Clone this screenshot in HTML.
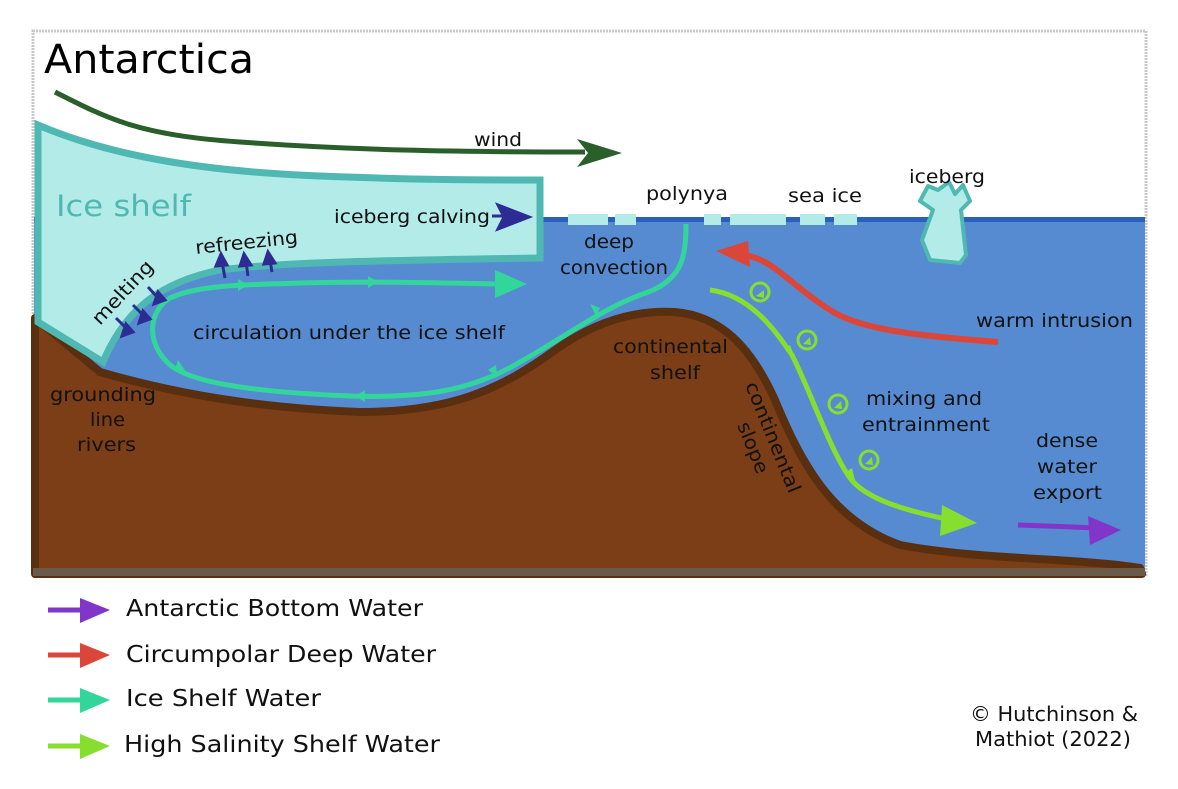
<!DOCTYPE html>
<html><head><meta charset="utf-8"><style>
html,body{margin:0;padding:0;background:#fff}
svg{display:block}
text{font-family:"DejaVu Sans","Liberation Sans",sans-serif;fill:#111}
</style></head><body>
<svg width="1178" height="789" viewBox="0 0 1178 789" xmlns="http://www.w3.org/2000/svg">
<rect x="33" y="31" width="1113" height="545" fill="#fff" stroke="#c8c8c8" stroke-width="3" stroke-dasharray="2 1"/>
<rect x="34" y="219" width="1111" height="356" fill="#568bd1"/>
<rect x="34" y="217" width="1111" height="5" fill="#2b5fbd"/>
<path d="M35,318 L100,372 C180,395 260,408 360,412 C450,412 500,390 555,350 C600,318 640,310 675,312 C720,316 750,345 775,400 C800,460 830,520 900,545 C980,560 1080,558 1140,568 L1142,574 L35,574 Z" fill="#7b3e16" stroke="#5a2f10" stroke-width="8" stroke-linejoin="round"/>
<rect x="33" y="568" width="1112" height="8" fill="#6a5a4a"/>
<path d="M38,125 C120,160 220,172 320,176 C420,180 480,180 540,180 L540,258 C400,260 280,262 220,270 C160,282 125,310 103,362 L38,322 Z" fill="#b3ebe9" stroke="#4fb8b3" stroke-width="7" stroke-linejoin="miter"/>
<g fill="#b3ebe9">
<rect x="568" y="214" width="40" height="11"/><rect x="615" y="214" width="21" height="11"/>
<rect x="704" y="214" width="17" height="11"/><rect x="730" y="214" width="56" height="11"/>
<rect x="800" y="214" width="25" height="11"/><rect x="834" y="214" width="23" height="11"/>
</g>
<path d="M933,210 L920,201 L928,186 L938,190 L949,182 L955,194 L963,185 L970,201 L961,210 L966,255 L960,263 L930,260 L922,240 Z" fill="#b3ebe9" stroke="#4fb8b3" stroke-width="4" stroke-linejoin="round"/>
<path d="M55,92 C110,120 140,135 240,142 C350,150 450,152 585,152" fill="none" stroke="#2a5e2a" stroke-width="5"/>
<path d="M577,139 L622,153 L577,167 L588,153Z" fill="#2a5e2a"/>
<g fill="none" stroke="#33d69a" stroke-width="5">
<path d="M686,224 C686,262 680,282 640,295 C600,310 560,340 520,362 C470,392 420,398 350,396 C250,392 185,382 167,362 C145,340 150,310 170,298 C200,284 250,285 300,283 C380,281 440,283 500,284"/>
</g>
<path d="M495,270 L527,284 L495,298 Z" fill="#33d69a"/>
<g fill="#33d69a">
<path d="M600,308 L590,304 L596,316Z"/><path d="M488,370 L496,365 L497,377Z"/>
<path d="M355,396 L365,390 L365,402Z"/><path d="M175,370 L178,360 L186,372Z"/>
<path d="M248,285 L238,279 L238,291Z"/><path d="M378,282 L368,276 L368,288Z"/>
</g>
<g stroke="#2c2c94" stroke-width="3" fill="#2c2c94">
<path d="M116,318 L128,330"/><path d="M122,336 L133,332 L126,324Z"/>
<path d="M133,305 L145,317"/><path d="M139,323 L150,319 L143,311Z"/>
<path d="M148,287 L158,298"/><path d="M154,304 L165,300 L158,292Z"/>
<path d="M225,278 L222,262"/><path d="M221,254 L216,266 L227,265Z"/>
<path d="M248,276 L246,262"/><path d="M244,254 L240,266 L251,265Z"/>
<path d="M272,272 L270,260"/><path d="M268,252 L264,264 L275,263Z"/>
<path d="M492,216 L505,216"/><path d="M498,205 L529,217 L498,229 L504,217Z"/>
</g>
<path d="M998,342 C920,336 860,330 830,310 C790,285 770,255 740,255" fill="none" stroke="#dc4638" stroke-width="6"/>
<path d="M748,241 L716,251 L750,267 Z" fill="#dc4638"/>
<path d="M710,290 C750,295 775,330 792,355 C810,390 830,450 850,478 C870,505 930,515 950,520" fill="none" stroke="#86de2f" stroke-width="5"/>
<path d="M942,505 L977,523 L940,536 Z" fill="#86de2f"/>
<path d="M785,350 L796,360 L790,345Z" fill="#86de2f"/>
<path d="M846,472 L856,484 L852,468Z" fill="#86de2f"/>
<g fill="none" stroke="#86de2f" stroke-width="3">
<circle cx="760" cy="292" r="9"/><circle cx="807" cy="340" r="9"/><circle cx="838" cy="404" r="9"/><circle cx="869" cy="460" r="9"/>
</g>
<g fill="#86de2f">
<path d="M756,296 L764,290 L764,298Z"/><path d="M803,344 L810,337 L811,345Z"/>
<path d="M834,408 L841,401 L842,409Z"/><path d="M865,464 L872,457 L873,465Z"/>
</g>
<text x="866" y="405" font-size="19" textLength="116" lengthAdjust="spacingAndGlyphs">mixing and</text>
<text x="862" y="431" font-size="19" textLength="128" lengthAdjust="spacingAndGlyphs">entrainment</text>
<path d="M1018,525 C1050,526 1075,527 1095,528" fill="none" stroke="#8136c9" stroke-width="5"/>
<path d="M1088,516 L1121,530 L1090,545 Z" fill="#8136c9"/>
<text x="44" y="73" font-size="40" style="fill:#000" textLength="210" lengthAdjust="spacingAndGlyphs">Antarctica</text>
<text x="56" y="216" font-size="29" style="fill:#4fb8b3" textLength="135" lengthAdjust="spacingAndGlyphs">Ice shelf</text>
<text x="474" y="146" font-size="19" textLength="48" lengthAdjust="spacingAndGlyphs">wind</text>
<text x="334" y="223" font-size="19" textLength="156" lengthAdjust="spacingAndGlyphs">iceberg calving</text>
<text x="196" y="254" font-size="19" transform="rotate(-6 196 254)" textLength="103" lengthAdjust="spacingAndGlyphs">refreezing</text>
<text x="100" y="326" font-size="19" transform="rotate(-47 100 326)" textLength="80" lengthAdjust="spacingAndGlyphs">melting</text>
<text x="193" y="339" font-size="19" textLength="312" lengthAdjust="spacingAndGlyphs">circulation under the ice shelf</text>
<text x="50" y="401" font-size="19" textLength="106" lengthAdjust="spacingAndGlyphs">grounding</text>
<text x="90" y="426" font-size="19" textLength="35" lengthAdjust="spacingAndGlyphs">line</text>
<text x="77" y="451" font-size="19" textLength="59" lengthAdjust="spacingAndGlyphs">rivers</text>
<text x="646" y="200" font-size="19" textLength="82" lengthAdjust="spacingAndGlyphs">polynya</text>
<text x="788" y="202" font-size="19" textLength="74" lengthAdjust="spacingAndGlyphs">sea ice</text>
<text x="909" y="183" font-size="19" textLength="76" lengthAdjust="spacingAndGlyphs">iceberg</text>
<text x="584" y="248" font-size="19" textLength="50" lengthAdjust="spacingAndGlyphs">deep</text>
<text x="560" y="274" font-size="19" textLength="108" lengthAdjust="spacingAndGlyphs">convection</text>
<text x="976" y="327" font-size="19" textLength="157" lengthAdjust="spacingAndGlyphs">warm intrusion</text>
<text x="613" y="353" font-size="19" textLength="115" lengthAdjust="spacingAndGlyphs">continental</text>
<text x="650" y="379" font-size="19" textLength="50" lengthAdjust="spacingAndGlyphs">shelf</text>
<text x="1036" y="447" font-size="19" textLength="62" lengthAdjust="spacingAndGlyphs">dense</text>
<text x="1037" y="473" font-size="19" textLength="60" lengthAdjust="spacingAndGlyphs">water</text>
<text x="1033" y="499" font-size="19" textLength="69" lengthAdjust="spacingAndGlyphs">export</text>
<text x="745" y="385" font-size="19" transform="rotate(68 745 385)" textLength="118" lengthAdjust="spacingAndGlyphs">continental</text>
<text x="737" y="425" font-size="19" transform="rotate(68 737 425)" textLength="54" lengthAdjust="spacingAndGlyphs">slope</text>
<g stroke-width="5">
<path d="M48,610 L86,610" stroke="#8136c9"/><path d="M80,598 L110,610 L80,623Z" fill="#8136c9"/>
<path d="M48,655 L86,655" stroke="#dc4638"/><path d="M80,643 L110,655 L80,668Z" fill="#dc4638"/>
<path d="M48,700 L86,700" stroke="#33d69a"/><path d="M80,688 L110,700 L80,713Z" fill="#33d69a"/>
<path d="M48,746 L86,746" stroke="#86de2f"/><path d="M80,734 L110,746 L80,759Z" fill="#86de2f"/>
</g>
<text x="126" y="616" font-size="23" textLength="297" lengthAdjust="spacingAndGlyphs">Antarctic Bottom Water</text>
<text x="126" y="662" font-size="23" textLength="310" lengthAdjust="spacingAndGlyphs">Circumpolar Deep Water</text>
<text x="126" y="706" font-size="23" textLength="195" lengthAdjust="spacingAndGlyphs">Ice Shelf Water</text>
<text x="124" y="752" font-size="23" textLength="316" lengthAdjust="spacingAndGlyphs">High Salinity Shelf Water</text>
<text x="970" y="721" font-size="20" textLength="168" lengthAdjust="spacingAndGlyphs">© Hutchinson &amp;</text>
<text x="975" y="746" font-size="20" textLength="156" lengthAdjust="spacingAndGlyphs">Mathiot (2022)</text>
</svg>
</body></html>
